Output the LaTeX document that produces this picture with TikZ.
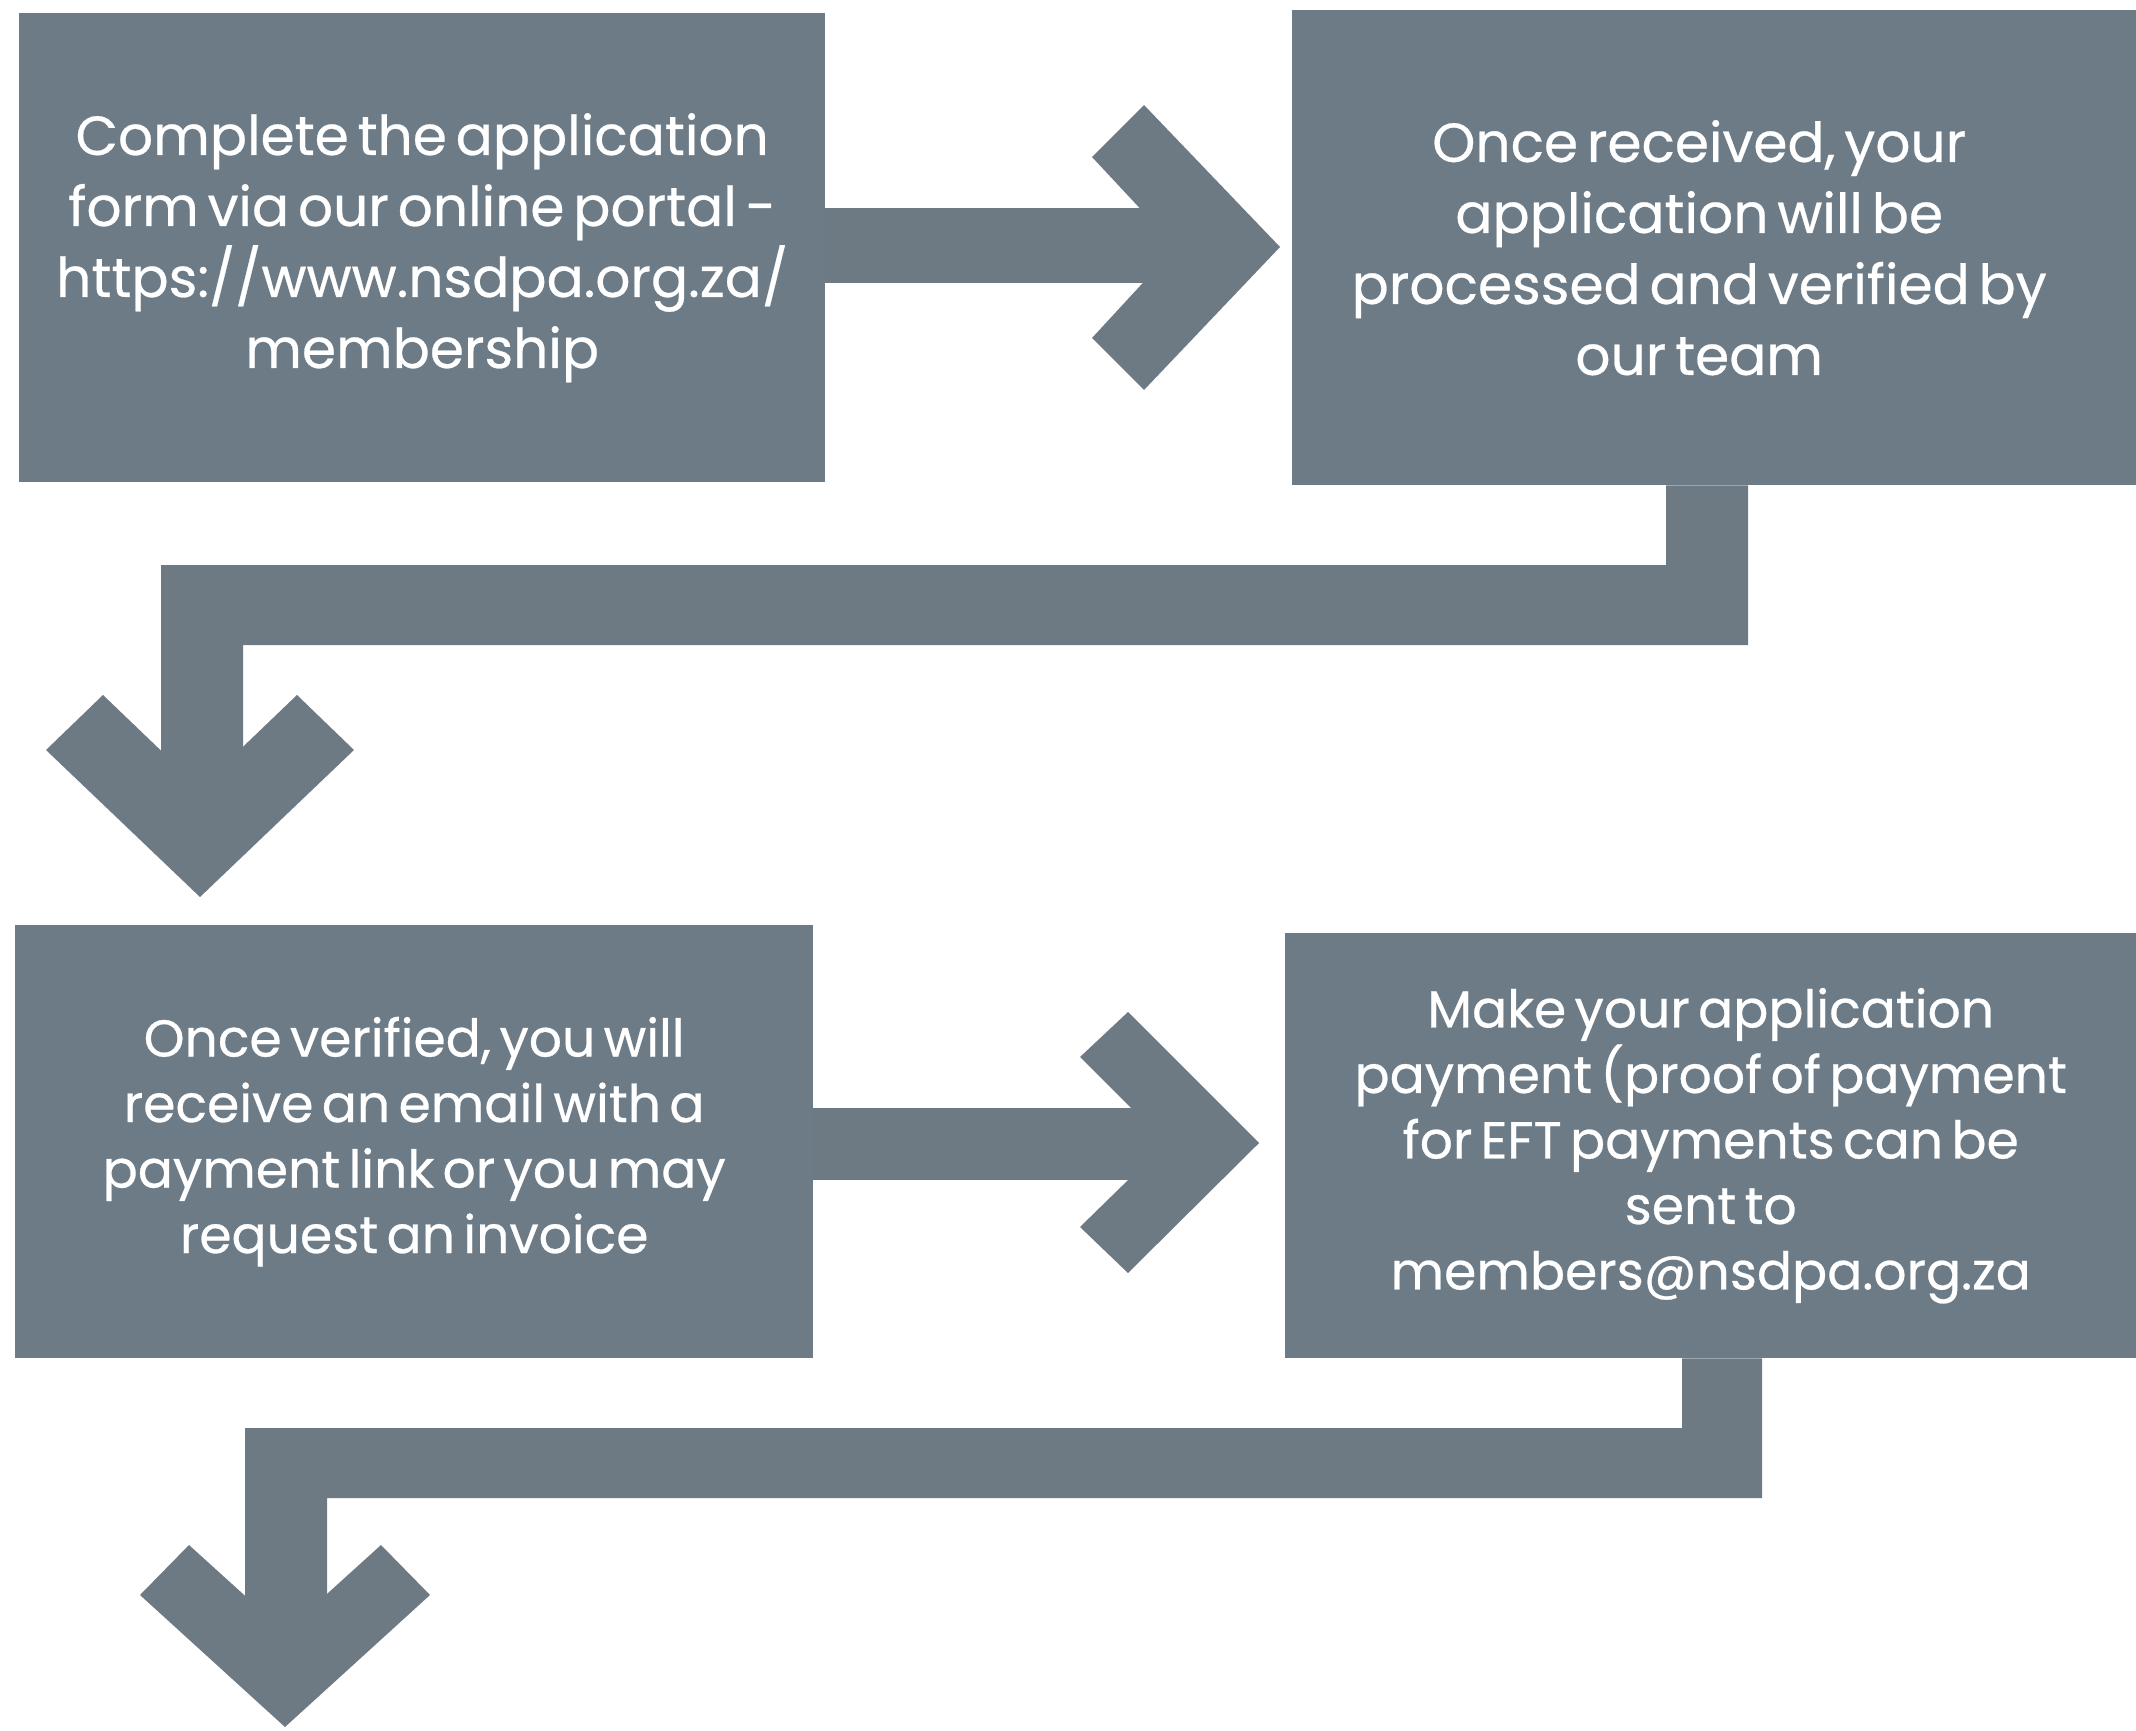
\documentclass[tikz,border=0pt]{standalone}
\usepackage{fontspec}
\setmainfont{Poppins}[WordSpace=0.6, FakeBold=0.5]
\usetikzlibrary{calc}
\definecolor{slate}{RGB}{108,123,134}
\definecolor{arrowc}{RGB}{109,121,131}
\begin{document}
\begin{tikzpicture}[x=1pt,y=-1pt,
  box/.style={fill=slate, draw=none, anchor=north west, inner sep=0pt, align=center, text=white},
  bigtxt/.style={font=\fontsize{55}{71}\selectfont},
  smalltxt/.style={font=\fontsize{52}{65.5}\selectfont},
  arrowfill/.style={fill=arrowc, draw=none}]
\useasboundingbox (0,0) rectangle (2136,1731);
\fill[white] (0,0) rectangle (2136,1731);

% boxes
\node[box, bigtxt, minimum width=806pt, minimum height=469pt] (b1) at (19,13)
  {Complete the application\\form via our online portal -\\https://www.nsdpa.org.za/\\membership};
\node[box, bigtxt, minimum width=814pt, minimum height=475pt] (b2) at (1292,10)
  {Once received, your\\application will be\\processed and verified by\\our team};
\fill[slate] (b2.north east) rectangle (2136,485);
\node[box, smalltxt, minimum width=798pt, minimum height=433pt] (b3) at (15,925)
  {Once verified, you will\\receive an email with a\\payment link or you may\\request an invoice};
\node[box, smalltxt, minimum width=851pt, minimum height=425pt] (b4) at (1285,933)
  {Make your application\\payment (proof of payment\\for EFT payments can be\\sent to\\members@nsdpa.org.za};

% arrow b1 -> b2
\coordinate (t1) at (1280,247);
\fill[arrowfill] ($(b1.north east)+(0,195)$) rectangle (1176,283);
\fill[arrowfill] (1144,105) -- (t1) -- (1144,390) -- (1092,338) -- (1176,247) -- (1092,157) -- cycle;

% connector b2 -> b3
\coordinate (t2) at (200,897);
\fill[arrowfill] ($(b2.south west)+(374,0)$) -- ($(b2.south west)+(456,0)$) -- (1748,645) -- (243,645)
  -- (243,790) -- (161,790) -- (161,565) -- (1666,565) -- cycle;
\fill[arrowfill] (103,695) -- (200,788) -- (297,695) -- (354,750) -- (t2) -- (46,750) -- cycle;

% arrow b3 -> b4
\coordinate (t3) at (1259,1143);
\fill[arrowfill] ($(b3.north east)+(0,183)$) rectangle (1166,1180);
\fill[arrowfill] (1128,1012) -- (t3) -- (1128,1273) -- (1080,1227) -- (1166,1143) -- (1080,1057) -- cycle;

% connector b4 -> next
\coordinate (t4) at (285,1727);
\fill[arrowfill] ($(b4.south west)+(397,0)$) -- ($(b4.south west)+(477,0)$) -- (1762,1498) -- (327,1498)
  -- (327,1640) -- (245,1640) -- (245,1428) -- (1682,1428) -- cycle;
\fill[arrowfill] (189,1545) -- (285,1632) -- (381,1545) -- (430,1595) -- (t4) -- (140,1595) -- cycle;
\end{tikzpicture}
\end{document}
